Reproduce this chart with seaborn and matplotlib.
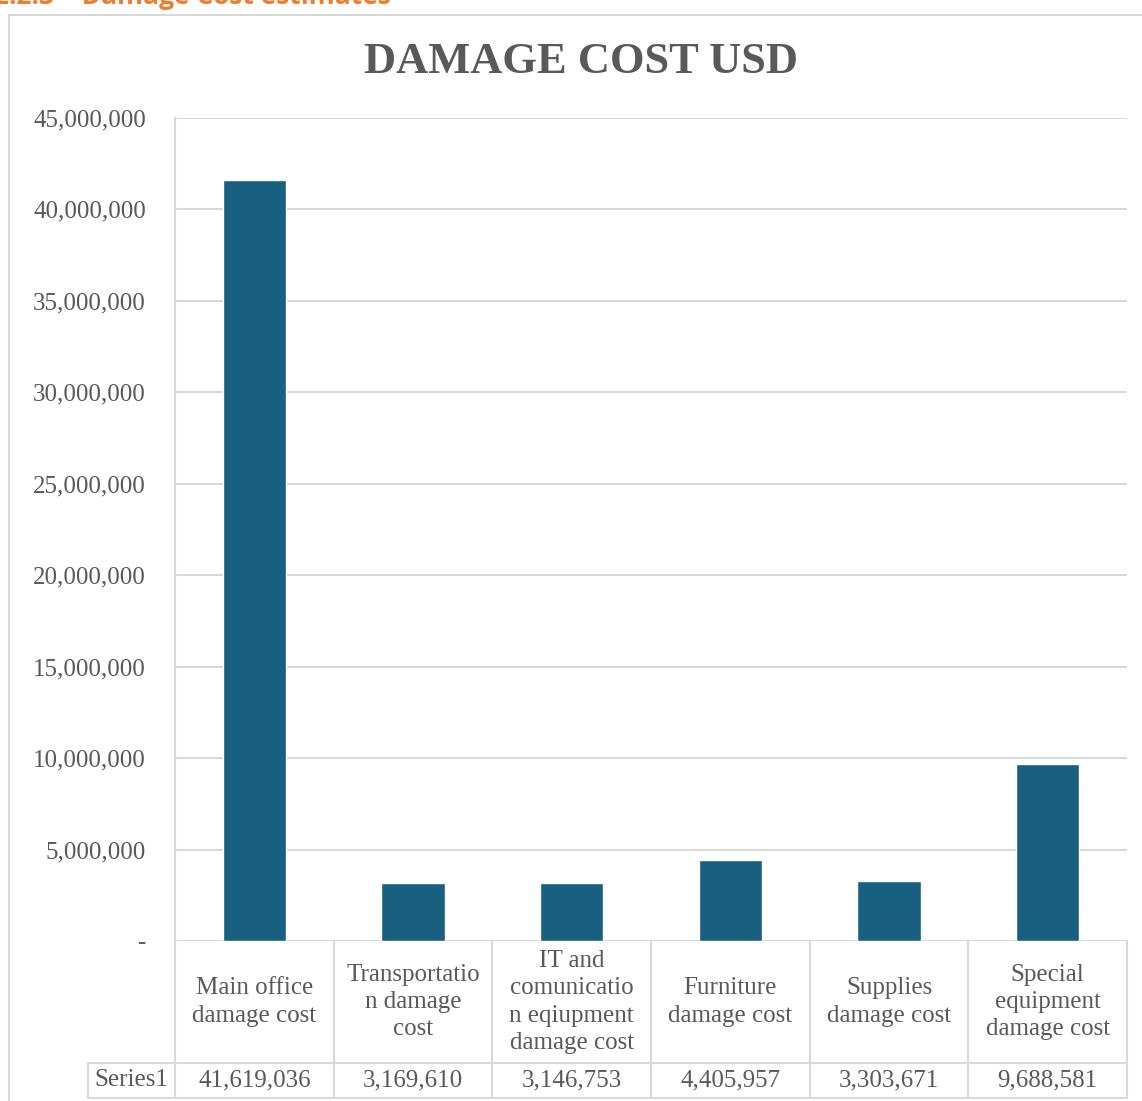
import numpy as np
import pandas as pd
import seaborn as sns
import matplotlib.pyplot as plt
import matplotlib.transforms as mtransforms
from matplotlib.patches import Rectangle
from matplotlib.ticker import FuncFormatter, MultipleLocator

# data (Excel data table values)
categories = ["Main office\ndamage cost",
              "Transportatio\nn damage\ncost",
              "IT and\ncomunicatio\nn eqiupment\ndamage cost",
              "Furniture\ndamage cost",
              "Supplies\ndamage cost",
              "Special\nequipment\ndamage cost"]
values = [41619036, 3169610, 3146753, 4405957, 3303671, 9688581]
series_name = "Series1"
title = "DAMAGE COST USD"
heading = "2.2.3    Damage Cost estimates"

sns.set_theme(style="white")
plt.rcParams['font.family'] = ['Liberation Serif', 'DejaVu Serif']

grey = "#595959"
line = "#D9D9D9"

df = pd.DataFrame({"category": categories, "cost": values})

W, H = 1142, 1101
fig = plt.figure(figsize=(W / 100, H / 100), dpi=100)
ax = fig.add_axes([175 / W, 1 - 941 / H, 952 / W, 823 / H])

sns.barplot(data=df, x="category", y="cost", color="#185F80", width=0.4,
            saturation=1, ax=ax)
ax.set_xlim(-0.5, len(categories) - 0.5)
ax.set_ylim(0, 45e6)
ax.yaxis.set_major_locator(MultipleLocator(5e6))
ax.yaxis.set_major_formatter(FuncFormatter(lambda v, p: "-" if v == 0 else f"{v:,.0f}"))
ax.grid(axis="y", color=line, lw=1.5)
ax.set_axisbelow(True)
for s in ["top", "right", "bottom"]:
    ax.spines[s].set_visible(False)
ax.spines["left"].set_color(line)
ax.spines["left"].set_linewidth(1.5)
ax.tick_params(axis="y", length=0, pad=21, labelsize=18, labelcolor=grey)
ax.set_xticks([])
ax.set_xlabel("")
ax.set_ylabel("")

# data table under the plot (x in data units, y in axes units)
trans = mtransforms.blended_transform_factory(ax.transData, ax.transAxes)
h1 = 122 / 823
h2 = 157 / 823
lab_w = 0.549
n = len(categories)
kw = dict(transform=trans, color=line, lw=1.5, clip_on=False)
for i in range(n + 1):
    ax.plot([i - 0.5, i - 0.5], [0, -h2], **kw)
ax.plot([-0.5 - lab_w, n - 0.5], [-h1, -h1], **kw)
ax.plot([-0.5 - lab_w, n - 0.5], [-h2, -h2], **kw)
ax.plot([-0.5 - lab_w, -0.5 - lab_w], [-h1, -h2], **kw)

for i, (c, v) in enumerate(zip(categories, values)):
    ax.text(i, -h1 / 2, c, transform=trans, ha="center", va="center",
            fontsize=18, color=grey, linespacing=1.3)
    ax.text(i, -(h1 + h2) / 2, f"{v:,}", transform=trans, ha="center",
            va="center", fontsize=18, color=grey)
ax.text(-0.5 - lab_w / 2, -(h1 + h2) / 2, series_name, transform=trans,
        ha="center", va="center", fontsize=18, color=grey)

# chart frame and titles
fig.patches.append(Rectangle((9 / W, -0.1), 1.2, 1 - 15 / H + 0.1,
                             transform=fig.transFigure, fill=False,
                             ec=line, lw=1.5))
fig.text(581 / W, 1 - 62 / H, title, ha="center", va="center",
         fontsize=32, fontweight="bold", color=grey)
fig.text(-6 / W, 1 - 4 / H, heading, ha="left", va="baseline",
         family=["Open Sans", "DejaVu Sans"], fontweight="bold",
         fontsize=19, color="#ED7D31")

fig.savefig("out.png", dpi=100)
